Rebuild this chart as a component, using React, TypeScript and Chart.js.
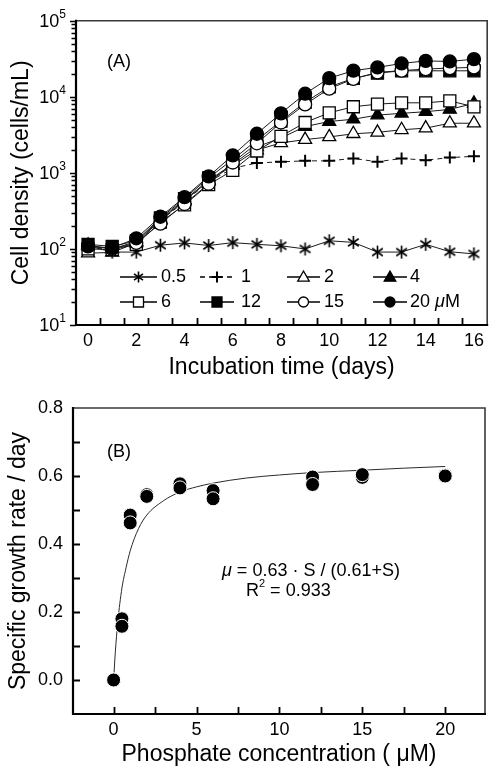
import React, { useEffect, useRef } from 'react';
import { Chart, registerables } from 'chart.js';

Chart.register(...registerables);

const FONT = "'Liberation Sans', Arial, Helvetica, sans-serif";

// ---------- Panel A data ----------
const days = [0, 1, 2, 3, 4, 5, 6, 7, 8, 9, 10, 11, 12, 13, 14, 15, 16];
const cellsP05 = [110, 91, 91, 112, 120, 111, 121, 115, 110, 100, 128, 122, 91, 91, 115, 92, 86];
const cellsP1 = [108, 97, 118, 235, 420, 760, 1150, 1350, 1400, 1440, 1440, 1550, 1400, 1550, 1470, 1590, 1650];
const cellsP2 = [88, 90, 120, 240, 430, 780, 1250, 2000, 2480, 2740, 2970, 3270, 3410, 3690, 3880, 4500, 4500];
const cellsP4 = [112, 100, 125, 245, 440, 800, 1300, 2200, 2880, 4070, 4740, 5080, 5760, 6070, 6380, 6840, 8200];
const cellsP6 = [100, 98, 115, 225, 380, 700, 1080, 1940, 3030, 4600, 6170, 7410, 8020, 8350, 8350, 8850, 7400];
const cellsP12 = [115, 108, 128, 255, 460, 860, 1500, 2700, 4800, 8500, 13500, 17500, 20500, 22000, 22000, 22000, 22000];
const cellsP15 = [110, 100, 120, 215, 390, 720, 1370, 2450, 4600, 7940, 12800, 17200, 21000, 22100, 23200, 23900, 24400];
const cellsP20 = [108, 103, 138, 265, 480, 900, 1700, 3270, 6070, 11000, 17600, 22100, 24400, 27500, 29700, 29200, 31300];
const seriesLabelsA = ['0.5', '1', '2', '4', '6', '12', '15', '20 μM'];
const xTicksA = [0, 2, 4, 6, 8, 10, 12, 14, 16];
const xTickLabelsA = ['0', '2', '4', '6', '8', '10', '12', '14', '16'];
const yTicksA = [10, 100, 1000, 10000, 100000];
const yTickBaseA = '10';
const yTickExponentsA = ['1', '2', '3', '4', '5'];

// ---------- Panel B data ----------
const phosphate = [0, 0.5, 1, 2, 4, 6, 12, 15, 20];
const rateRep1 = [0, 0.18, 0.485, 0.545, 0.577, 0.557, 0.597, 0.596, 0.602];
const rateRep2 = [0, 0.158, 0.462, 0.54, 0.565, 0.533, 0.575, 0.604, 0.6];
const fitS = [0, 0.1, 0.25, 0.5, 0.75, 1, 1.5, 2, 3, 4, 5, 6, 8, 10, 12, 15, 17.5, 20];
const fitRate = [0, 0.08, 0.17, 0.27, 0.33, 0.38, 0.445, 0.485, 0.527, 0.553, 0.568, 0.579, 0.594, 0.603, 0.61, 0.617, 0.623, 0.628];
const xTicksB = [0, 5, 10, 15, 20];
const xTickLabelsB = ['0', '5', '10', '15', '20'];
const yTicksB = [0, 0.2, 0.4, 0.6, 0.8];
const yTickLabelsB = ['0.0', '0.2', '0.4', '0.6', '0.8'];

// ---------- styles ----------
const markerKinds = ['asterisk', 'cross', 'triangle', 'triangle', 'rect', 'rect', 'circle', 'circle'];
const markerFills = ['#000', '#000', '#fff', '#000', '#fff', '#000', '#fff', '#000'];

function drawMarker(ctx: CanvasRenderingContext2D, kind: string, x: number, y: number, r: number, fill: string) {
  ctx.save();
  ctx.strokeStyle = '#000';
  ctx.fillStyle = fill;
  ctx.lineWidth = 1.3;
  ctx.setLineDash([]);
  ctx.beginPath();
  if (kind === 'circle') {
    ctx.arc(x, y, r, 0, Math.PI * 2);
    ctx.fill();
    ctx.stroke();
  } else if (kind === 'rect') {
    ctx.rect(x - r, y - r, 2 * r, 2 * r);
    ctx.fill();
    ctx.stroke();
  } else if (kind === 'triangle') {
    ctx.moveTo(x, y - r * 1.1);
    ctx.lineTo(x + r * 1.05, y + r * 0.75);
    ctx.lineTo(x - r * 1.05, y + r * 0.75);
    ctx.closePath();
    ctx.fill();
    ctx.stroke();
  } else if (kind === 'cross') {
    ctx.lineWidth = 2;
    ctx.moveTo(x - r, y);
    ctx.lineTo(x + r, y);
    ctx.moveTo(x, y - r);
    ctx.lineTo(x, y + r);
    ctx.stroke();
  } else if (kind === 'asterisk') {
    ctx.lineWidth = 1.6;
    for (const deg of [90, 35, 145]) {
      const a = (deg * Math.PI) / 180;
      const dx = Math.cos(a) * r;
      const dy = Math.sin(a) * r;
      ctx.moveTo(x - dx, y - dy);
      ctx.lineTo(x + dx, y + dy);
    }
    ctx.stroke();
  }
  ctx.restore();
}

function makeAsteriskImage(r: number): HTMLCanvasElement {
  const c = document.createElement('canvas');
  const s = Math.ceil(2 * r + 4);
  c.width = s;
  c.height = s;
  const cx = c.getContext('2d')!;
  drawMarker(cx, 'asterisk', s / 2, s / 2, r, '#000');
  return c;
}

function drawParts(ctx: CanvasRenderingContext2D, parts: { t: string; italic?: boolean; sup?: boolean }[], x: number, y: number, size: number) {
  let cx = x;
  for (const p of parts) {
    const sz = p.sup ? Math.round(size * 0.6) : size;
    ctx.font = `${p.italic ? 'italic ' : ''}${sz}px ${FONT}`;
    ctx.fillText(p.t, cx, p.sup ? y - size * 0.38 : y);
    cx += ctx.measureText(p.t).width;
  }
}

function drawFrame(ctx: CanvasRenderingContext2D, a: { left: number; right: number; top: number; bottom: number }) {
  ctx.save();
  ctx.strokeStyle = '#3a3a3a';
  ctx.lineWidth = 1.6;
  ctx.beginPath();
  ctx.moveTo(a.left, a.top);
  ctx.lineTo(a.right, a.top);
  ctx.lineTo(a.right, a.bottom);
  ctx.stroke();
  ctx.strokeStyle = '#000';
  ctx.lineWidth = 2.2;
  ctx.beginPath();
  ctx.moveTo(a.left, a.top - 1);
  ctx.lineTo(a.left, a.bottom);
  ctx.lineTo(a.right + 1, a.bottom);
  ctx.stroke();
  ctx.restore();
}

export default function App() {
  const refA = useRef<HTMLCanvasElement>(null);
  const refB = useRef<HTMLCanvasElement>(null);

  useEffect(() => {
    const asterisk = makeAsteriskImage(6.5);
    const seriesA = [cellsP05, cellsP1, cellsP2, cellsP4, cellsP6, cellsP12, cellsP15, cellsP20];
    const radiusFor: Record<string, number> = { circle: 6.5, rect: 8.5, triangle: 7.5, cross: 6, asterisk: 6.5 };

    const datasetsA = seriesA.map((vals, i) => {
      const kind = markerKinds[i];
      return {
        label: seriesLabelsA[i],
        data: days.map((d, j) => ({ x: d, y: vals[j] })),
        borderColor: '#1a1a1a',
        borderWidth: 1,
        borderDash: kind === 'cross' ? [5, 4] : [],
        pointStyle: kind === 'asterisk' ? asterisk : kind,
        pointRadius: radiusFor[kind],
        pointBackgroundColor: markerFills[i],
        pointBorderColor: '#000',
        pointBorderWidth: kind === 'cross' ? 2 : 1.3,
        showLine: true,
        fill: false,
        tension: 0,
        order: 7 - i,
      };
    });

    const decorA = {
      id: 'decorA',
      afterDraw(chart: any) {
        const { ctx, chartArea: a } = chart;
        const x = chart.scales.x;
        const y = chart.scales.y;
        drawFrame(ctx, a);
        ctx.save();
        ctx.strokeStyle = '#000';
        // x ticks (inward, at half days)
        ctx.lineWidth = 1.8;
        ctx.beginPath();
        for (let d = 0; d < 16; d++) {
          const px = Math.round(x.getPixelForValue(d + 0.5)) + 0.5;
          ctx.moveTo(px, a.bottom);
          ctx.lineTo(px, a.bottom - 7);
        }
        ctx.stroke();
        // y ticks (outward, log minor)
        ctx.lineWidth = 1.3;
        ctx.beginPath();
        for (let e = 1; e <= 5; e++) {
          for (let m = 1; m <= 9; m++) {
            if (e === 5 && m > 1) break;
            const py = Math.round(y.getPixelForValue(m * Math.pow(10, e))) + 0.5;
            const len = m === 1 ? 6 : 4.5;
            ctx.moveTo(a.left, py);
            ctx.lineTo(a.left - len, py);
          }
        }
        ctx.stroke();
        // y tick labels 10^n with real superscripts
        ctx.fillStyle = '#000';
        ctx.textBaseline = 'middle';
        ctx.textAlign = 'left';
        yTicksA.forEach((v, i) => {
          const py = y.getPixelForValue(v);
          ctx.font = `18px ${FONT}`;
          const wBase = ctx.measureText(yTickBaseA).width;
          ctx.font = `12px ${FONT}`;
          const wExp = ctx.measureText(yTickExponentsA[i]).width;
          const x0 = a.left - 10 - wBase - wExp;
          ctx.font = `18px ${FONT}`;
          ctx.fillText(yTickBaseA, x0, py + 1);
          ctx.font = `12px ${FONT}`;
          ctx.fillText(yTickExponentsA[i], x0 + wBase, py - 6);
        });
        // legend
        const rows = [277, 302];
        const cols = [
          { x1: 120, x2: 157, tx: 161 },
          { x1: 200, x2: 234, tx: 241 },
          { x1: 287, x2: 320, tx: 324 },
          { x1: 373, x2: 407, tx: 410 },
        ];
        const legR: Record<string, number> = { circle: 5, rect: 5, triangle: 5.5, cross: 5.5, asterisk: 5.5 };
        chart.data.datasets.forEach((ds: any, i: number) => {
          const row = rows[Math.floor(i / 4)];
          const col = cols[i % 4];
          ctx.save();
          ctx.strokeStyle = '#000';
          ctx.lineWidth = 1.3;
          ctx.setLineDash(ds.borderDash || []);
          ctx.beginPath();
          ctx.moveTo(col.x1, row);
          ctx.lineTo(col.x2, row);
          ctx.stroke();
          ctx.restore();
          drawMarker(ctx, markerKinds[i], (col.x1 + col.x2) / 2, row, legR[markerKinds[i]], markerFills[i]);
          ctx.fillStyle = '#000';
          ctx.textBaseline = 'middle';
          ctx.textAlign = 'left';
          const label: string = ds.label;
          if (label.includes('μ')) {
            const [num] = label.split(' ');
            drawParts(ctx, [{ t: num + ' ' }, { t: 'μ', italic: true }, { t: 'M' }], col.tx, row, 18);
          } else {
            ctx.font = `18px ${FONT}`;
            ctx.fillText(label, col.tx, row);
          }
        });
        // panel label
        ctx.fillStyle = '#000';
        ctx.font = `18px ${FONT}`;
        ctx.textBaseline = 'middle';
        ctx.textAlign = 'left';
        ctx.fillText('(A)', 107, 62);
        ctx.restore();
      },
    };

    const chartA = new Chart(refA.current!, {
      type: 'scatter',
      data: { datasets: datasetsA as any },
      options: {
        responsive: false,
        animation: false,
        events: [],
        layout: { padding: { left: 0, right: 8, top: 16, bottom: 0 } },
        plugins: { legend: { display: false }, tooltip: { enabled: false } },
        scales: {
          x: {
            type: 'linear',
            min: -0.5,
            max: 16.55,
            bounds: 'data',
            grid: { display: false, drawTicks: false },
            border: { display: false },
            afterBuildTicks: (s: any) => {
              s.ticks = xTicksA.map((v) => ({ value: v }));
            },
            afterFit: (s: any) => {
              s.height = 60;
            },
            ticks: {
              autoSkip: false,
              maxRotation: 0,
              padding: 5,
              color: '#000',
              font: { family: FONT, size: 18 },
              callback: (_v: any, i: number) => xTickLabelsA[i] ?? '',
            },
            title: {
              display: true,
              text: 'Incubation time (days)',
              color: '#000',
              font: { family: FONT, size: 23 },
              padding: { top: 0, bottom: 4 },
            },
          },
          y: {
            type: 'logarithmic',
            min: 10,
            max: 100000,
            grid: { display: false, drawTicks: false },
            border: { display: false },
            afterBuildTicks: (s: any) => {
              s.ticks = yTicksA.map((v) => ({ value: v, major: true }));
            },
            afterFit: (s: any) => {
              s.width = 76;
            },
            ticks: {
              autoSkip: false,
              padding: 10,
              color: '#000',
              font: { family: FONT, size: 18 },
              callback: () => '',
            },
            title: {
              display: true,
              text: 'Cell density (cells/mL)',
              color: '#000',
              font: { family: FONT, size: 23 },
              padding: { top: 8, bottom: 0 },
            },
          },
        },
      } as any,
      plugins: [decorA],
    });

    const decorB = {
      id: 'decorB',
      afterDraw(chart: any) {
        const { ctx, chartArea: a } = chart;
        const x = chart.scales.x;
        const y = chart.scales.y;
        drawFrame(ctx, a);
        ctx.save();
        ctx.strokeStyle = '#000';
        ctx.lineWidth = 1.8;
        ctx.beginPath();
        for (let k = 0; k <= 8; k++) {
          const px = Math.round(x.getPixelForValue(k * 2.5)) + 0.5;
          ctx.moveTo(px, a.bottom);
          ctx.lineTo(px, a.bottom - 7);
        }
        for (let k = 0; k <= 7; k++) {
          const py = Math.round(y.getPixelForValue(k / 10)) + 0.5;
          ctx.moveTo(a.left, py);
          ctx.lineTo(a.left + 7, py);
        }
        ctx.stroke();
        ctx.fillStyle = '#000';
        ctx.textBaseline = 'middle';
        ctx.textAlign = 'left';
        ctx.font = `18px ${FONT}`;
        ctx.fillText('(B)', 107, 67);
        drawParts(ctx, [{ t: 'μ', italic: true }, { t: ' = 0.63 · S / (0.61+S)' }], 222, 186, 18);
        drawParts(ctx, [{ t: 'R' }, { t: '2', sup: true }, { t: ' = 0.933' }], 246, 206, 18);
        ctx.restore();
      },
    };

    const chartB = new Chart(refB.current!, {
      type: 'scatter',
      data: {
        datasets: [
          {
            label: 'fit',
            data: fitS.map((s, i) => ({ x: s, y: fitRate[i] })),
            showLine: true,
            borderColor: '#2a2a2a',
            borderWidth: 1,
            pointRadius: 0,
            cubicInterpolationMode: 'monotone',
            order: 3,
          },
          {
            label: 'replicate 1',
            data: phosphate.map((s, i) => ({ x: s, y: rateRep1[i] })),
            pointRadius: 7,
            pointBackgroundColor: '#000',
            pointBorderColor: '#fff',
            pointBorderWidth: 1,
            order: 2,
          },
          {
            label: 'replicate 2',
            data: phosphate.map((s, i) => ({ x: s, y: rateRep2[i] })),
            pointRadius: 7,
            pointBackgroundColor: '#000',
            pointBorderColor: '#fff',
            pointBorderWidth: 1,
            order: 1,
          },
        ] as any,
      },
      options: {
        responsive: false,
        animation: false,
        events: [],
        layout: { padding: { left: 0, right: 12, top: 23, bottom: 0 } },
        plugins: { legend: { display: false }, tooltip: { enabled: false } },
        scales: {
          x: {
            type: 'linear',
            min: -2.45,
            max: 22.4,
            bounds: 'data',
            grid: { display: false, drawTicks: false },
            border: { display: false },
            afterBuildTicks: (s: any) => {
              s.ticks = xTicksB.map((v) => ({ value: v }));
            },
            afterFit: (s: any) => {
              s.height = 59;
            },
            ticks: {
              autoSkip: false,
              maxRotation: 0,
              padding: 5,
              color: '#000',
              font: { family: FONT, size: 18 },
              callback: (_v: any, i: number) => xTickLabelsB[i] ?? '',
            },
            title: {
              display: true,
              text: 'Phosphate concentration ( μM)',
              color: '#000',
              font: { family: FONT, size: 23 },
              padding: { top: 0, bottom: 5 },
            },
          },
          y: {
            type: 'linear',
            min: -0.1,
            max: 0.8,
            bounds: 'data',
            grid: { display: false, drawTicks: false },
            border: { display: false },
            afterBuildTicks: (s: any) => {
              s.ticks = yTicksB.map((v) => ({ value: v }));
            },
            afterFit: (s: any) => {
              s.width = 73;
            },
            ticks: {
              autoSkip: false,
              padding: 10,
              color: '#000',
              font: { family: FONT, size: 18 },
              callback: (_v: any, i: number) => yTickLabelsB[i] ?? '',
            },
            title: {
              display: true,
              text: 'Specific growth rate / day',
              color: '#000',
              font: { family: FONT, size: 23 },
              padding: { top: 5, bottom: 0 },
            },
          },
        },
      } as any,
      plugins: [decorB],
    });

    return () => {
      chartA.destroy();
      chartB.destroy();
    };
  }, []);

  return (
    <div style={{ position: 'absolute', left: 0, top: 0, width: 497, height: 773, background: '#fff', overflow: 'hidden' }}>
      <canvas ref={refA} width={497} height={385} style={{ position: 'absolute', left: 0, top: 0 }} />
      <canvas ref={refB} width={497} height={388} style={{ position: 'absolute', left: 0, top: 385 }} />
    </div>
  );
}
